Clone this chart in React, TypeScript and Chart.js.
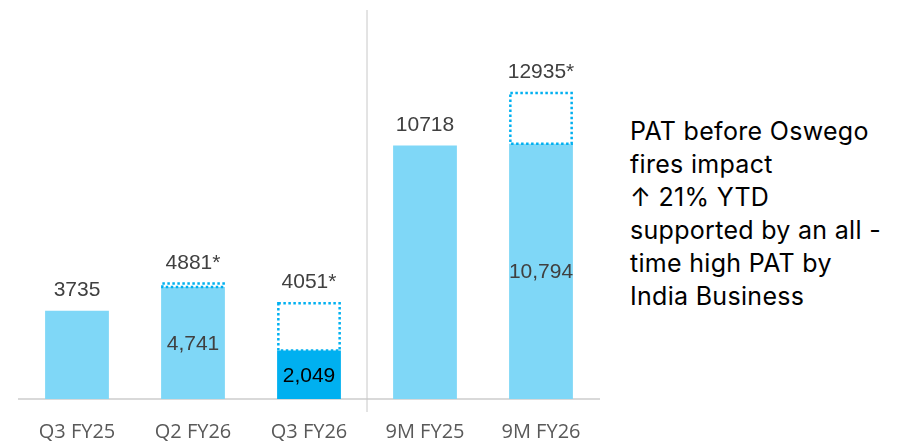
import React, { useEffect, useRef } from "react";
import { Chart, registerables } from "chart.js";

Chart.register(...registerables);

const categories = ["Q3 FY25", "Q2 FY26", "Q3 FY26", "9M FY25", "9M FY26"];
const reportedValues = [3735, 4741, 2049, 10718, 10794];
const beforeImpactValues = [null, 4881, 4051, null, 12935];
const topLabels = ["3735", "4881*", "4051*", "10718", "12935*"];
const insideLabels = ["", "4,741", "2,049", "", "10,794"];
const barColors = ["#7FD7F7", "#7FD7F7", "#00B0F0", "#7FD7F7", "#7FD7F7"];
const noteLines = [
  "PAT before Oswego",
  "fires impact",
  "\u2191 21% YTD",
  "supported by an all -",
  "time high PAT by",
  "India Business",
];

const gapValues = beforeImpactValues.map((v, i) => (v == null ? null : v - reportedValues[i]));

const overlayPlugin = {
  id: "overlay",
  afterDatasetsDraw(chart: any) {
    const ctx = chart.ctx;
    const area = chart.chartArea;
    const xScale = chart.scales.x;
    const solidMeta = chart.getDatasetMeta(0);
    const gapMeta = chart.getDatasetMeta(1);
    ctx.save();
    // dotted boxes
    gapMeta.data.forEach((el: any, i: number) => {
      if (gapValues[i] == null) return;
      const p = el.getProps(["x", "y", "base", "width"], true);
      const left = p.x - p.width / 2;
      const right = p.x + p.width / 2;
      const top = Math.min(p.y, p.base);
      const bottom = Math.max(p.y, p.base);
      ctx.setLineDash([2.5, 2.5]);
      ctx.lineWidth = 2.5;
      ctx.strokeStyle = "#00B0F0";
      ctx.strokeRect(left + 1.25, top, right - left - 2.5, bottom - top);
    });
    ctx.setLineDash([]);
    // divider
    const xd = (xScale.getPixelForValue(2) + xScale.getPixelForValue(3)) / 2;
    ctx.strokeStyle = "#C8C8C8";
    ctx.lineWidth = 1;
    ctx.beginPath();
    ctx.moveTo(xd, area.top);
    ctx.lineTo(xd, area.bottom + 13);
    ctx.stroke();
    // labels
    ctx.textAlign = "center";
    ctx.textBaseline = "alphabetic";
    ctx.font = "21px 'Liberation Sans', Arial, sans-serif";
    ctx.fillStyle = "#404040";
    solidMeta.data.forEach((el: any, i: number) => {
      const top = gapValues[i] != null ? gapMeta.data[i].y : el.y;
      ctx.fillText(topLabels[i], el.x, top - 15);
    });
    ctx.textBaseline = "middle";
    solidMeta.data.forEach((el: any, i: number) => {
      if (!insideLabels[i]) return;
      ctx.fillStyle = i === 2 ? "#000000" : "#404040";
      ctx.fillText(insideLabels[i], el.x, (el.y + el.base) / 2 + 1);
    });
    ctx.restore();
  },
};

export default function App() {
  const ref = useRef<HTMLCanvasElement>(null);
  useEffect(() => {
    if (!ref.current) return;
    const chart = new Chart(ref.current, {
      type: "bar",
      data: {
        labels: categories,
        datasets: [
          {
            data: reportedValues,
            backgroundColor: barColors,
            borderWidth: 0,
            barPercentage: 0.55,
            categoryPercentage: 1,
          },
          {
            data: gapValues as any,
            backgroundColor: "rgba(255,255,255,0)",
            borderWidth: 0,
            barPercentage: 0.55,
            categoryPercentage: 1,
          },
        ],
      },
      options: {
        animation: false,
        responsive: false,
        maintainAspectRatio: false,
        layout: { padding: { left: 19, right: 21, top: 10, bottom: 0 } },
        plugins: { legend: { display: false }, tooltip: { enabled: false } },
        scales: {
          x: {
            stacked: true,
            grid: { display: false, drawTicks: false },
            border: { display: true, color: "#D9D9D9", width: 2 },
            ticks: {
              padding: 21,
              color: "#595959",
              font: { family: "'Open Sans', sans-serif", size: 20 },
            },
          },
          y: {
            stacked: true,
            display: false,
            min: 0,
            max: 16450,
          },
        },
      },
      plugins: [overlayPlugin],
    });
    return () => chart.destroy();
  }, []);
  return (
    <div style={{ position: "fixed", left: 0, top: 0, width: 910, height: 441, background: "#fff", overflow: "hidden" }}>
      <canvas ref={ref} width={620} height={465} style={{ position: "absolute", left: 0, top: 0, width: 620, height: 465 }} />
      <div
        style={{
          position: "absolute",
          left: 630,
          top: 115,
          fontFamily: "Inter, 'Liberation Sans', sans-serif",
          fontSize: 25,
          letterSpacing: "0.3px",
          lineHeight: "33px",
          color: "#000",
          whiteSpace: "pre",
        }}
      >
        {noteLines.map((l, i) => (
          <div key={i}>{l}</div>
        ))}
      </div>
    </div>
  );
}
